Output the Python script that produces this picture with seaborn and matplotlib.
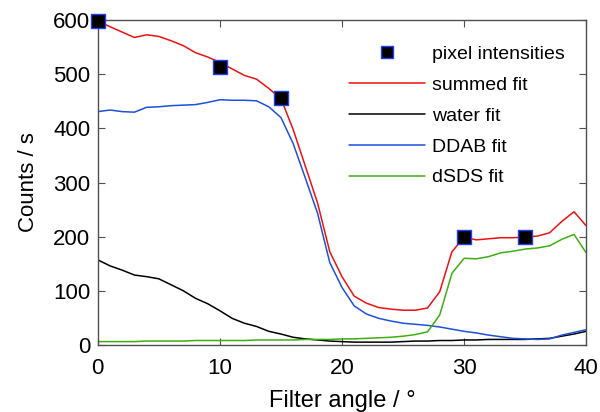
import pandas as pd
import seaborn as sns
import matplotlib.pyplot as plt
from matplotlib.lines import Line2D

# --- DATA ---
angle = list(range(0, 41))

summed_fit = [598, 588, 578, 568, 573, 570, 562, 553, 540, 532,
              522, 510, 498, 491, 474, 455, 398, 330, 262, 172,
              126, 90, 77, 69, 66, 64, 64, 68, 98, 172,
              199, 194, 196, 198, 198, 199, 201, 207, 228, 246, 220]

water_fit = [157, 146, 138, 129, 126, 122, 111, 100, 86, 76,
             63, 49, 40, 34, 25, 20, 14, 11, 9, 7,
             6, 5, 5, 5, 5, 6, 7, 7, 8, 8,
             9, 9, 10, 10, 10, 10, 11, 12, 16, 20, 25]

ddab_fit = [431, 434, 431, 430, 439, 440, 442, 443, 444, 448,
            453, 452, 452, 451, 440, 420, 372, 308, 243, 152,
            106, 72, 57, 49, 44, 40, 38, 36, 33, 29,
            25, 22, 18, 15, 12, 11, 10, 11, 18, 23, 28]

dsds_fit = [6, 6, 6, 6, 7, 7, 7, 7, 8, 8,
            8, 8, 8, 9, 9, 9, 9, 10, 10, 10,
            11, 11, 12, 13, 14, 16, 19, 24, 55, 132,
            160, 159, 163, 170, 173, 177, 179, 183, 195, 204, 170]

pixel_angle = [0, 10, 15, 30, 35]
pixel_counts = [598, 513, 456, 199, 199]

fit_names = ["summed fit", "water fit", "DDAB fit", "dSDS fit"]

# --- PLOT ---
sns.set_style("ticks")
plt.rcParams['font.family'] = ['Liberation Sans', 'DejaVu Sans']
plt.rcParams['text.color'] = 'black'
plt.rcParams['axes.labelcolor'] = 'black'
plt.rcParams['xtick.color'] = 'black'
plt.rcParams['ytick.color'] = 'black'

fig, ax = plt.subplots(figsize=(6, 4.12), dpi=100)
fig.subplots_adjust(left=0.163, right=0.977, top=0.951, bottom=0.163)

lines = pd.DataFrame({
    "angle": angle * 4,
    "counts": summed_fit + water_fit + ddab_fit + dsds_fit,
    "fit": sum([[n] * len(angle) for n in fit_names], []),
})
palette = {"summed fit": "#ee1111", "water fit": "black",
           "DDAB fit": "#1f50d8", "dSDS fit": "#3fae10"}

sns.lineplot(data=lines, x="angle", y="counts", hue="fit", palette=palette,
             linewidth=1.1, ax=ax, legend=False)
sns.scatterplot(x=pixel_angle, y=pixel_counts, marker="s", s=110,
                color="black", edgecolor="#2040ff", linewidth=1.0,
                zorder=5, ax=ax, clip_on=False)

# legend (no frame, marker first, long line handles)
handles = [Line2D([], [], ls="none", marker="s", markersize=9,
                  markerfacecolor="black", markeredgecolor="#2040ff")]
for name in fit_names:
    handles.append(Line2D([], [], color=palette[name], lw=1.1))
ax.legend(handles, ["pixel intensities"] + fit_names, loc="upper left",
          frameon=False, fontsize=14, handlelength=3.9, handletextpad=0.4,
          labelspacing=0.68, borderpad=0, borderaxespad=0,
          bbox_to_anchor=(0.514, 0.922))

ax.set_xlim(0, 40)
ax.set_ylim(0, 600)
ax.set_xticks(range(0, 41, 10))
ax.set_yticks(range(0, 601, 100))
ax.tick_params(direction="in", top=True, right=True, length=5,
               labelsize=16)
ax.tick_params(axis="x", pad=9.5, colors="black")
ax.tick_params(axis="y", pad=5.5, colors="black")
ax.tick_params(color="#505050")
for sp in ax.spines.values():
    sp.set_color("#505050")
    sp.set_linewidth(1.0)
ax.set_xlabel("Filter angle / °", fontsize=17, labelpad=8)
ax.set_ylabel("Counts / s", fontsize=16, labelpad=10)

plt.savefig("out.png", dpi=100)
